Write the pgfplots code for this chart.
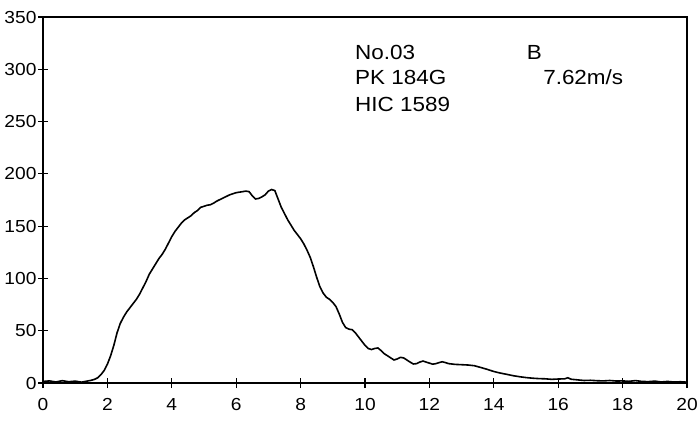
\documentclass[border=0pt]{standalone}
\usepackage{fontspec}
\setmainfont{Liberation Sans}
\newfontfamily\widefont{Liberation Sans}[FakeStretch=1.1]
\usepackage{pgfplots}
\pgfplotsset{compat=1.18}

\pgfplotstableread{
t v
0.0 1.5
0.2 2.0
0.4 1.0
0.6 2.2
0.8 1.2
1.0 1.8
1.2 0.8
1.4 2.0
1.5 2.6
1.6 3.5
1.7 5
1.8 8
1.9 12
2.0 18
2.1 26
2.2 36
2.3 48
2.4 57
2.5 63
2.6 68
2.7 72
2.8 76
2.9 80
3.0 85
3.1 91
3.2 97
3.3 104
3.4 109
3.5 114
3.6 119
3.7 123
3.8 128
3.9 134
4.0 140
4.1 145
4.2 149
4.3 153
4.4 156
4.5 158
4.6 160
4.7 163
4.8 165
4.9 168
5.0 169
5.1 170
5.2 170.5
5.3 172
5.4 174
5.5 175.5
5.6 177
5.7 178.5
5.8 180
5.9 181
6.0 182
6.1 182.5
6.2 183
6.3 183.5
6.4 183
6.5 179
6.6 176
6.7 176.5
6.8 178
6.9 180
7.0 183.5
7.1 185
7.2 184
7.3 176
7.4 168
7.5 162
7.6 156
7.7 151
7.8 146
7.9 142
8.0 138
8.1 133
8.2 127
8.3 120
8.4 111
8.5 101
8.6 92
8.7 86
8.8 82
8.9 80
9.0 77
9.1 73
9.2 66
9.3 58
9.4 53
9.5 51.5
9.6 51
9.7 48
9.8 44
9.9 40
10.0 36
10.1 33
10.2 32
10.3 33
10.4 33.5
10.5 31
10.6 28
10.7 26
10.8 24
10.9 22
11.0 23
11.1 24.5
11.2 24
11.3 22
11.4 20
11.5 18.2
11.6 18.5
11.7 20
11.8 21
11.9 20
12.0 19
12.1 18
12.2 18.5
12.3 19.5
12.4 20.3
12.5 19.5
12.6 18.5
12.8 17.8
13.0 17.5
13.2 17.2
13.4 16.5
13.6 14.8
13.8 13
14.0 11
14.2 9.5
14.4 8.3
14.6 7
14.8 6
15.0 5.2
15.2 4.6
15.4 4.2
15.6 4.0
15.8 3.5
16.0 3.8
16.2 4.0
16.3 5.0
16.4 3.6
16.6 3.0
16.8 2.4
17.0 2.6
17.2 2.2
17.4 2.0
17.6 2.4
17.8 1.9
18.0 2.0
18.2 1.6
18.4 2.3
18.6 1.5
18.8 1.3
19.0 1.8
19.2 1.0
19.4 1.5
19.6 0.9
19.8 1.2
20.0 0.8
}\pulsedata

\begin{document}
\begin{tikzpicture}
\begin{axis}[
    at={(43bp,40bp)},
    anchor=south west,
    scale only axis,
    width=644bp,
    height=366bp,
    xmin=0, xmax=20,
    ymin=0, ymax=350,
    xtick={0,2,...,20},
    ytick={0,50,...,350},
    axis line style={line width=1.5bp},
    tick style={line width=1.2bp, black},
    major tick length=10bp,
    tick align=center,
    xtick pos=bottom,
    ytick pos=left,
    tick label style={font=\widefont\fontsize{17.5}{20}\selectfont},
    /pgf/number format/assume math mode=true,
    xticklabel style={yshift=-7bp},
    yticklabel style={xshift=2bp},
    clip=false,
]
\addplot[black, line width=1.6bp] table[x=t, y=v] {\pulsedata};

\begin{scope}[every node/.style={anchor=base west, inner sep=0pt, font=\widefont\fontsize{20.5}{24}\selectfont}]
\node at (axis cs:9.69,309.8) {No.03};
\node at (axis cs:9.69,285.9) {PK 184G};
\node at (axis cs:9.69,259.4) {HIC 1589};
\node at (axis cs:15.02,309.8) {B};
\node at (axis cs:15.53,285.9) {7.62m/s};
\end{scope}
\end{axis}
\pgfresetboundingbox
\path (0,0) rectangle (700bp,423bp);
\end{tikzpicture}
\end{document}
